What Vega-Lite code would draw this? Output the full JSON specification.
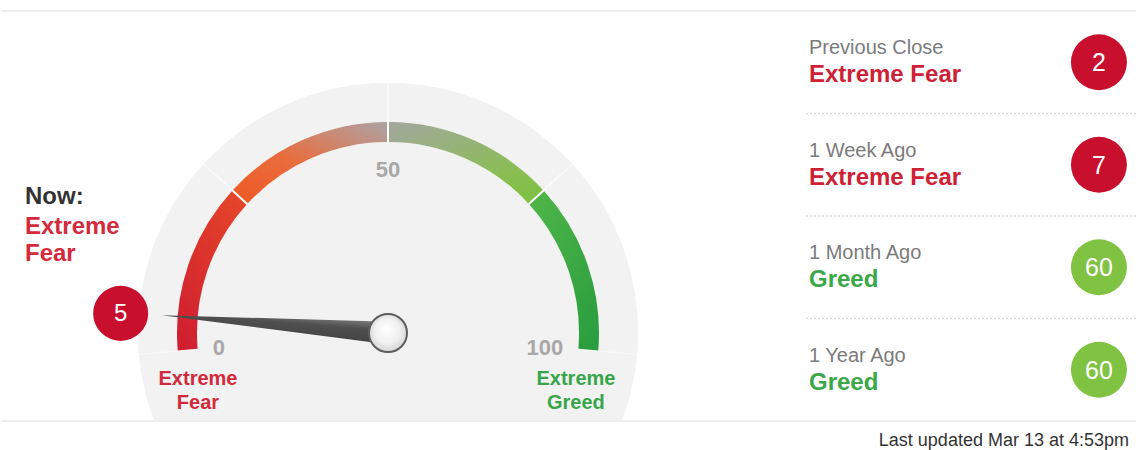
{
  "$schema": "https://vega.github.io/schema/vega-lite/v6.json",
  "width": 1136,
  "height": 421,
  "padding": 0,
  "background": "white",
  "title": {"text": "Last updated Mar 13 at 4:53pm", "orient": "bottom", "anchor": "end", "fontSize": 18, "fontWeight": "normal", "color": "#333333", "offset": 10, "dx": -9, "font": "Liberation Sans"},
  "config": {"view": {"stroke": null}, "font": "Liberation Sans", "axis": {"disable": true}},
  "datasets": {
    "segments": [
      {"from": 0, "to": 25, "rating": "Extreme Fear"},
      {"from": 25, "to": 50, "rating": "Fear"},
      {"from": 50, "to": 75, "rating": "Greed"},
      {"from": 75, "to": 100, "rating": "Extreme Greed"}
    ],
    "dial": [{"from": 0, "to": 100}],
    "ticks": [{"tick": 0}, {"tick": 50}, {"tick": 100}],
    "now": [{"period": "Now", "rating": "Extreme Fear", "value": 5}],
    "history": [
      {"period": "Previous Close", "rating": "Extreme Fear", "value": 2},
      {"period": "1 Week Ago", "rating": "Extreme Fear", "value": 7},
      {"period": "1 Month Ago", "rating": "Greed", "value": 60},
      {"period": "1 Year Ago", "rating": "Greed", "value": 60}
    ]
  },
  "resolve": {"scale": {"x": "independent", "y": "independent", "color": "independent", "fill": "independent"}},
  "layer": [
    {
      "encoding": {
        "x": {"datum": 0, "type": "quantitative", "scale": {"domain": [-1.83412, 3.54976], "nice": false, "zero": false}, "axis": null},
        "y": {"datum": 0, "type": "quantitative", "scale": {"domain": [-0.41706, 1.5782], "nice": false, "zero": false}, "axis": null}
      },
      "layer": [
        {
          "data": {"name": "dial"},
          "mark": {"type": "arc", "clip": true, "color": "#f2f2f2", "theta": 0, "theta2": 6.2832, "radius": 250, "radius2": 0}
        },
        {
          "data": {"name": "dial"},
          "mark": {"type": "arc", "color": "#fafafa", "radius": 250, "radius2": 211},
          "encoding": {
            "theta": {"field": "from", "type": "quantitative", "stack": null, "scale": {"domain": [0, 100], "range": [-1.65806, 1.65806], "zero": false, "nice": false}},
            "theta2": {"field": "to"}
          }
        },
        {
          "data": {"name": "dial"},
          "mark": {"type": "arc", "color": "#ffffff", "radius": 211, "radius2": 191},
          "encoding": {
            "theta": {"field": "from", "type": "quantitative", "stack": null},
            "theta2": {"field": "to"}
          }
        },
        {
          "data": {"name": "segments"},
          "mark": {"type": "arc", "color": "#f2f2f2", "radius": 250, "radius2": 211, "padAngle": 0.005},
          "encoding": {
            "theta": {"field": "from", "type": "quantitative", "stack": null},
            "theta2": {"field": "to"}
          }
        },
        {
          "data": {"name": "segments"},
          "transform": [{"filter": "datum.from == 0"}],
          "mark": {"type": "arc", "radius": 211, "radius2": 191, "padAngle": 0.007,
            "fill": {"gradient": "linear", "x1": 0.2, "y1": 1, "x2": 0.8, "y2": 0, "stops": [{"offset": 0, "color": "#d11f30"}, {"offset": 1, "color": "#e4452a"}]}},
          "encoding": {"theta": {"field": "from", "type": "quantitative", "stack": null}, "theta2": {"field": "to"}}
        },
        {
          "data": {"name": "segments"},
          "transform": [{"filter": "datum.from == 25"}],
          "mark": {"type": "arc", "radius": 211, "radius2": 191, "padAngle": 0.007,
            "fill": {"gradient": "linear", "x1": 0, "y1": 1, "x2": 1, "y2": 0, "stops": [{"offset": 0, "color": "#ef5823"}, {"offset": 0.45, "color": "#e86d3d"}, {"offset": 0.8, "color": "#c48f80"}, {"offset": 1, "color": "#aaa4a4"}]}},
          "encoding": {"theta": {"field": "from", "type": "quantitative", "stack": null}, "theta2": {"field": "to"}}
        },
        {
          "data": {"name": "segments"},
          "transform": [{"filter": "datum.from == 50"}],
          "mark": {"type": "arc", "radius": 211, "radius2": 191, "padAngle": 0.007,
            "fill": {"gradient": "linear", "x1": 0, "y1": 0, "x2": 1, "y2": 1, "stops": [{"offset": 0, "color": "#a2a79e"}, {"offset": 0.35, "color": "#97b27a"}, {"offset": 0.75, "color": "#88bf4f"}, {"offset": 1, "color": "#7cc142"}]}},
          "encoding": {"theta": {"field": "from", "type": "quantitative", "stack": null}, "theta2": {"field": "to"}}
        },
        {
          "data": {"name": "segments"},
          "transform": [{"filter": "datum.from == 75"}],
          "mark": {"type": "arc", "radius": 211, "radius2": 191, "padAngle": 0.007,
            "fill": {"gradient": "linear", "x1": 0.2, "y1": 0, "x2": 0.8, "y2": 1, "stops": [{"offset": 0, "color": "#4db448"}, {"offset": 1, "color": "#2b9e3f"}]}},
          "encoding": {"theta": {"field": "from", "type": "quantitative", "stack": null}, "theta2": {"field": "to"}}
        },
        {
          "data": {"name": "ticks"},
          "transform": [{"filter": "datum.tick == 0"}],
          "mark": {"type": "text", "radius": 176, "align": "left", "baseline": "middle", "fontSize": 22, "fontWeight": "bold", "color": "#a8a8a8"},
          "encoding": {"theta": {"field": "tick", "type": "quantitative", "stack": null}, "text": {"field": "tick"}}
        },
        {
          "data": {"name": "ticks"},
          "transform": [{"filter": "datum.tick == 50"}],
          "mark": {"type": "text", "radius": 163, "align": "center", "baseline": "middle", "fontSize": 22, "fontWeight": "bold", "color": "#a8a8a8"},
          "encoding": {"theta": {"field": "tick", "type": "quantitative", "stack": null}, "text": {"field": "tick"}}
        },
        {
          "data": {"name": "ticks"},
          "transform": [{"filter": "datum.tick == 100"}],
          "mark": {"type": "text", "radius": 176, "align": "right", "baseline": "middle", "fontSize": 22, "fontWeight": "bold", "color": "#a8a8a8"},
          "encoding": {"theta": {"field": "tick", "type": "quantitative", "stack": null}, "text": {"field": "tick"}}
        },
        {
          "data": {"name": "segments"},
          "transform": [{"filter": "datum.from == 0"}],
          "mark": {"type": "text", "theta": -1.8378, "radius": 197, "align": "center", "baseline": "alphabetic", "lineBreak": " ", "lineHeight": 24, "fontSize": 20, "fontWeight": "bold", "color": "#d22a3c"},
          "encoding": {"text": {"field": "rating"}}
        },
        {
          "data": {"name": "segments"},
          "transform": [{"filter": "datum.to == 100"}],
          "mark": {"type": "text", "theta": 1.8407, "radius": 195, "align": "center", "baseline": "alphabetic", "lineBreak": " ", "lineHeight": 24, "fontSize": 20, "fontWeight": "bold", "color": "#37a64a"},
          "encoding": {"text": {"field": "rating"}}
        },
        {
          "data": {"name": "now"},
          "mark": {"type": "point", "shape": "M -0.05 0 L 0 -1 L 0.05 0 Z", "size": 206116, "filled": true, "opacity": 1, "strokeWidth": 0,
            "fill": {"gradient": "linear", "x1": 0, "y1": 0, "x2": 1, "y2": 0, "stops": [{"offset": 0, "color": "#444444"}, {"offset": 0.6, "color": "#4f4f4f"}, {"offset": 1, "color": "#7d7d7d"}]}},
          "encoding": {"angle": {"field": "value", "type": "quantitative", "scale": {"domain": [0, 100], "range": [-95, 95], "zero": false, "nice": false}, "legend": null}}
        },
        {
          "data": {"name": "now"},
          "mark": {"type": "point", "shape": "circle", "size": 1444, "filled": true, "opacity": 1, "stroke": "#5e5e5e", "strokeWidth": 2,
            "fill": {"gradient": "radial", "x1": 0.45, "y1": 0.35, "r1": 0, "x2": 0.5, "y2": 0.5, "r2": 0.55, "stops": [{"offset": 0, "color": "#ffffff"}, {"offset": 0.6, "color": "#f0f0f0"}, {"offset": 1, "color": "#cfcfcf"}]}}
        },
        {
          "data": {"name": "now"},
          "mark": {"type": "point", "shape": "circle", "size": 3025, "filled": true, "opacity": 1, "color": "#c8102e", "strokeWidth": 0},
          "encoding": {
            "x": {"datum": -1.267, "type": "quantitative", "axis": null},
            "y": {"datum": 0.093, "type": "quantitative", "axis": null}
          }
        },
        {
          "data": {"name": "now"},
          "mark": {"type": "text", "align": "center", "baseline": "middle", "fontSize": 24, "color": "#ffffff", "dy": 1},
          "encoding": {
            "x": {"datum": -1.267, "type": "quantitative", "axis": null},
            "y": {"datum": 0.093, "type": "quantitative", "axis": null},
            "text": {"field": "value"}
          }
        },
        {
          "data": {"name": "now"},
          "mark": {"type": "text", "align": "left", "baseline": "alphabetic", "fontSize": 24, "fontWeight": "bold", "color": "#333333"},
          "encoding": {
            "x": {"datum": -1.7204, "type": "quantitative", "axis": null},
            "y": {"datum": 0.6114, "type": "quantitative", "axis": null},
            "text": {"value": "Now:"}
          }
        },
        {
          "data": {"name": "now"},
          "mark": {"type": "text", "align": "left", "baseline": "alphabetic", "lineBreak": " ", "lineHeight": 27, "fontSize": 24, "fontWeight": "bold", "color": "#d42a3c"},
          "encoding": {
            "x": {"datum": -1.7204, "type": "quantitative", "axis": null},
            "y": {"datum": 0.4692, "type": "quantitative", "axis": null},
            "text": {"field": "rating"}
          }
        }
      ]
    },
    {
      "data": {"name": "history"},
      "layer": [
        {
          "transform": [{"filter": "datum.period == 'Previous Close'"}],
          "mark": {"type": "rule", "color": "#eeeeee", "strokeWidth": 2},
          "encoding": {
            "y": {"field": "period", "type": "nominal", "bandPosition": 0, "axis": null,
              "scale": {"type": "band", "domain": ["Previous Close", "1 Week Ago", "1 Month Ago", "1 Year Ago"], "range": [11, 421], "paddingInner": 0, "paddingOuter": 0}}
          }
        },
        {
          "transform": [{"filter": "datum.period == '1 Year Ago'"}],
          "mark": {"type": "rule", "color": "#eeeeee", "strokeWidth": 2},
          "encoding": {
            "y": {"field": "period", "type": "nominal", "bandPosition": 1, "axis": null}
          }
        },
        {
          "transform": [{"filter": "datum.period != 'Previous Close'"}],
          "mark": {"type": "rule", "color": "#d9d9d9", "strokeWidth": 1.5, "strokeDash": [2, 2]},
          "encoding": {
            "y": {"field": "period", "type": "nominal", "bandPosition": 0, "axis": null},
            "x": {"datum": 0, "type": "quantitative", "axis": null, "scale": {"domain": [0, 1], "range": [805, 1136], "nice": false, "zero": false}},
            "x2": {"datum": 1}
          }
        },
        {
          "mark": {"type": "text", "align": "left", "baseline": "middle", "dy": -14, "fontSize": 20, "color": "#7b7b7b"},
          "encoding": {
            "y": {"field": "period", "type": "nominal", "axis": null},
            "x": {"datum": 0.009, "type": "quantitative", "axis": null},
            "text": {"field": "period"}
          }
        },
        {
          "mark": {"type": "text", "align": "left", "baseline": "middle", "dy": 13, "fontSize": 24, "fontWeight": "bold"},
          "encoding": {
            "y": {"field": "period", "type": "nominal", "axis": null},
            "x": {"datum": 0.009, "type": "quantitative", "axis": null},
            "text": {"field": "rating"},
            "color": {"field": "rating", "type": "nominal", "legend": null,
              "scale": {"domain": ["Extreme Fear", "Fear", "Neutral", "Greed", "Extreme Greed"], "range": ["#cf2135", "#e2612d", "#9a9a9a", "#3aa847", "#2e9e44"]}}
          }
        },
        {
          "mark": {"type": "point", "shape": "circle", "size": 3136, "filled": true, "opacity": 1, "strokeWidth": 0},
          "encoding": {
            "y": {"field": "period", "type": "nominal", "axis": null},
            "x": {"datum": 0.885, "type": "quantitative", "axis": null},
            "fill": {"field": "rating", "type": "nominal", "legend": null,
              "scale": {"domain": ["Extreme Fear", "Fear", "Neutral", "Greed", "Extreme Greed"], "range": ["#c8102e", "#e0502a", "#a0a0a0", "#80c241", "#3aa847"]}}
          }
        },
        {
          "mark": {"type": "text", "align": "center", "baseline": "middle", "dy": 1, "fontSize": 25, "color": "#ffffff"},
          "encoding": {
            "y": {"field": "period", "type": "nominal", "axis": null},
            "x": {"datum": 0.885, "type": "quantitative", "axis": null},
            "text": {"field": "value"}
          }
        }
      ]
    }
  ]
}
